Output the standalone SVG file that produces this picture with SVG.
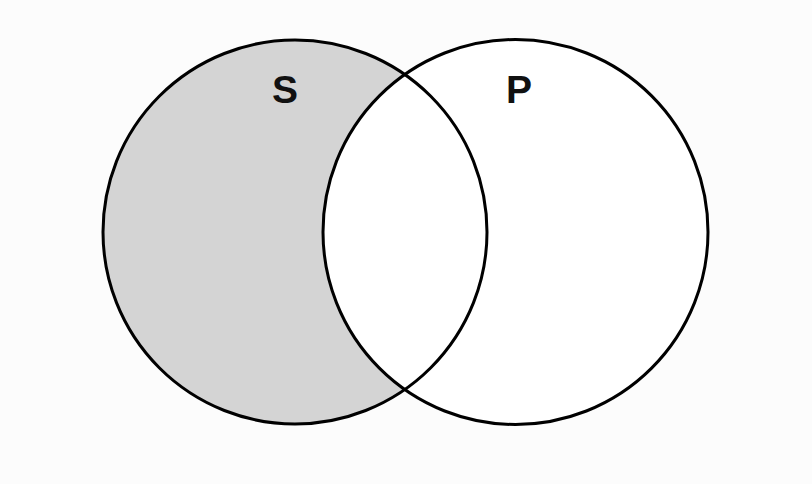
<svg xmlns="http://www.w3.org/2000/svg" width="812" height="484" viewBox="0 0 812 484">
  <style>
    .ring { fill: none; stroke: #000; stroke-width: 3; }
    .label { font-family: "Liberation Sans", Arial, sans-serif; font-weight: bold; font-size: 39px; fill: #111; text-anchor: middle; }
  </style>
  <rect width="812" height="484" fill="#fcfcfc"/>
  <g id="fills">
    <circle cx="295" cy="232" r="192" fill="#d4d4d4"/>
    <circle cx="515.5" cy="232" r="192.5" fill="#ffffff"/>
  </g>
  <g id="S">
    <circle class="ring" cx="295" cy="232" r="192"/>
    <text class="label" x="285" y="103">S</text>
  </g>
  <g id="P">
    <circle class="ring" cx="515.5" cy="232" r="192.5"/>
    <text class="label" x="519" y="103">P</text>
  </g>
  <g id="connectors"></g>
</svg>
